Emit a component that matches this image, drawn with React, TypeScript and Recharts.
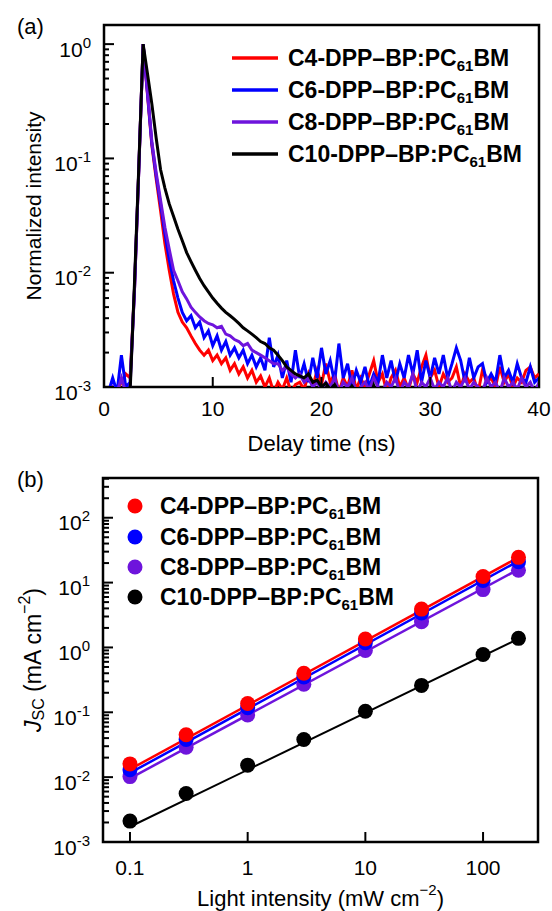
import React from 'react';
import { LineChart, ComposedChart, Line, Scatter, XAxis, YAxis, ReferenceArea, Legend } from 'recharts';

const FONT = '"Liberation Sans", Arial, Helvetica, sans-serif';
const RED = '#ff0000';
const BLUE = '#0000ff';
const PURPLE = '#6e14dc';
const BLACK = '#000000';

// ---------- Panel (a): TRPL decay ----------
const delayTime = [
  0, 0.4, 0.8, 1.2, 1.6, 2, 2.4, 2.8, 3.2, 3.6, 4, 4.4, 4.8, 5.2, 5.6, 6, 6.4, 6.8, 7.2, 7.6,
  8, 8.4, 8.8, 9.2, 9.6, 10, 10.4, 10.8, 11.2, 11.6, 12, 12.4, 12.8, 13.2, 13.6, 14, 14.4, 14.8, 15.2, 15.6,
  16, 16.4, 16.8, 17.2, 17.6, 18, 18.4, 18.8, 19.2, 19.6, 20, 20.4, 20.8, 21.2, 21.6, 22, 22.4, 22.8, 23.2, 23.6,
  24, 24.4, 24.8, 25.2, 25.6, 26, 26.4, 26.8, 27.2, 27.6, 28, 28.4, 28.8, 29.2, 29.6, 30, 30.4, 30.8, 31.2, 31.6,
  32, 32.4, 32.8, 33.2, 33.6, 34, 34.4, 34.8, 35.2, 35.6, 36, 36.4, 36.8, 37.2, 37.6, 38, 38.4, 38.8, 39.2, 39.6, 40,
];

const c4Decay = [
  0.0007, 0.0007, 0.0008, 0.00095, 0.0011, 0.0013, 0.0012, 0.007, 0.08, 1.0,
  0.36, 0.13, 0.066, 0.035, 0.018, 0.0105, 0.0065, 0.0045, 0.0037, 0.0033,
  0.0028, 0.0024, 0.0021, 0.0019, 0.0021, 0.0017, 0.0019, 0.0016, 0.0018, 0.0014,
  0.0016, 0.0013, 0.0015, 0.0012, 0.0014, 0.0011, 0.00125, 0.001, 0.0012, 0.0009,
  0.0011, 0.00095, 0.0012, 0.0009, 0.00105, 0.0011, 0.00095, 0.0013, 0.001, 0.0014,
  0.00105, 0.0016, 0.0011, 0.0013, 0.0009, 0.0012, 0.001, 0.0014, 0.00095, 0.0012,
  0.001, 0.0013, 0.0017, 0.0011, 0.0013, 0.0009, 0.0012, 0.0014, 0.001, 0.0012,
  0.00095, 0.0013, 0.0011, 0.0015, 0.0019, 0.0012, 0.0014, 0.001, 0.0013, 0.0011,
  0.0012, 0.0015, 0.001, 0.0013, 0.0011, 0.0012, 0.0009, 0.0014, 0.0011, 0.0012,
  0.001, 0.0015, 0.0011, 0.0013, 0.001, 0.0012, 0.0011, 0.0014, 0.0015, 0.0012, 0.0013,
];

const c6Decay = [
  0.0008, 0.0009, 0.0012, 0.0009, 0.0019, 0.001, 0.0011, 0.007, 0.08, 1.0,
  0.37, 0.135, 0.07, 0.04, 0.022, 0.013, 0.0085, 0.006, 0.0045, 0.0038,
  0.0042, 0.0033, 0.0037, 0.0027, 0.0031, 0.0023, 0.0028, 0.0021, 0.0025, 0.0019,
  0.0022, 0.0018, 0.0021, 0.0016, 0.0019, 0.0015, 0.0018, 0.0014, 0.0027, 0.0015,
  0.0019, 0.0012, 0.0017, 0.0011, 0.0021, 0.0012, 0.0016, 0.0011, 0.0018, 0.0012,
  0.0022, 0.0013, 0.0017, 0.0011, 0.0024, 0.0012, 0.0016, 0.001, 0.0014, 0.0011,
  0.0015, 0.001, 0.0013, 0.0011, 0.0019, 0.0012, 0.0017, 0.0011, 0.0016, 0.0012,
  0.0019, 0.0013, 0.0021, 0.0011, 0.0017, 0.0012, 0.0018, 0.0013, 0.0019, 0.0012,
  0.0016, 0.0022, 0.0017, 0.0011, 0.0018, 0.0012, 0.0015, 0.0016, 0.0011, 0.0013,
  0.0011, 0.0019, 0.0012, 0.0014, 0.0011, 0.0016, 0.0012, 0.0011, 0.0015, 0.0011, 0.0012,
];

const c8Decay = [
  0.0007, 0.0008, 0.001, 0.0009, 0.0012, 0.0009, 0.001, 0.007, 0.08, 1.0,
  0.38, 0.14, 0.075, 0.043, 0.025, 0.016, 0.0105, 0.0085, 0.0068, 0.0059,
  0.005, 0.0045, 0.0041, 0.0038, 0.0036, 0.0035, 0.0033, 0.0034, 0.0029, 0.0028,
  0.0026, 0.0025, 0.0023, 0.0024, 0.0021, 0.002, 0.0019, 0.0018, 0.0017, 0.0016,
  0.0016, 0.0014, 0.0015, 0.0013, 0.0012, 0.0013, 0.0011, 0.0012, 0.001, 0.0011,
  0.00095, 0.0011, 0.001, 0.0012, 0.0009, 0.0011, 0.001, 0.0012, 0.0009, 0.001,
  0.0011, 0.00095, 0.0012, 0.001, 0.0009, 0.0011, 0.001, 0.0012, 0.0009, 0.0011,
  0.001, 0.0013, 0.0009, 0.0011, 0.001, 0.0012, 0.00095, 0.0011, 0.001, 0.0012,
  0.0009, 0.0011, 0.001, 0.0012, 0.00095, 0.0011, 0.001, 0.0009, 0.0012, 0.001,
  0.0011, 0.0009, 0.0012, 0.001, 0.0011, 0.00095, 0.0012, 0.001, 0.0011, 0.0009, 0.0011,
];

const c10Decay = [
  0.0006, 0.0006, 0.0006, 0.0006, 0.0006, 0.0006, 0.0009, 0.008, 0.085, 1.0,
  0.55, 0.3, 0.15, 0.08, 0.055, 0.04, 0.031, 0.024, 0.019, 0.015,
  0.0125, 0.0105, 0.0089, 0.0077, 0.0068, 0.006, 0.0054, 0.0049, 0.0045, 0.0042,
  0.0039, 0.0036, 0.0033, 0.0031, 0.0029, 0.0027, 0.0025, 0.0024, 0.0022, 0.0021,
  0.0019, 0.0017, 0.0015, 0.0014, 0.0013, 0.00125, 0.0012, 0.0013, 0.0011, 0.00115,
  0.001, 0.00108, 0.00095, 0.00105, 0.0009, 0.00085, 0.0009, 0.00102, 0.0009, 0.0008,
  0.0008, 0.0008, 0.00103, 0.0008, 0.0008, 0.0008, 0.0008, 0.0008, 0.0008, 0.0008,
  0.0008, 0.0008, 0.0008, 0.0008, 0.0008, 0.0008, 0.0008, 0.0008, 0.0008, 0.0008,
  0.0008, 0.0008, 0.0008, 0.0008, 0.0008, 0.0008, 0.0008, 0.0008, 0.0008, 0.0008,
  0.0008, 0.0008, 0.0008, 0.0008, 0.0008, 0.0008, 0.0008, 0.0008, 0.0008, 0.0008, 0.0008,
];

const xTicksA = [0, 10, 20, 30, 40];
const yMajorA = [0.001, 0.01, 0.1, 1];

// ---------- Panel (b): Jsc vs light intensity ----------
const lightIntensity = [0.1, 0.3, 1, 3, 10, 30, 100, 200];
const jscC4 = [0.016, 0.045, 0.137, 0.4, 1.35, 3.9, 12.4, 24.5];
const jscC6 = [0.013, 0.038, 0.118, 0.35, 1.18, 3.4, 10.8, 21];
const jscC8 = [0.0102, 0.029, 0.091, 0.27, 0.9, 2.5, 7.8, 15.5];
const jscC10 = [0.0021, 0.0056, 0.0153, 0.038, 0.104, 0.26, 0.78, 1.38];

const fitRange = [0.1, 200];
const fitC4 = [0.0132, 24.5];
const fitC6 = [0.0116, 21.5];
const fitC8 = [0.0096, 16];
const fitC10 = [0.00172, 1.36];

const xTicksB = [0.1, 1, 10, 100];
const xTickLabelsB = ['0.1', '1', '10', '100'];
const yMajorB = [0.001, 0.01, 0.1, 1, 10, 100];

const legendPrefixes = ['C4', 'C6', 'C8', 'C10'];
const seriesColors = [RED, BLUE, PURPLE, BLACK];

// ---------- helpers ----------
const minorTicks = (majors: number[], extra: number[]) => {
  const out: number[] = [];
  majors.forEach((m, i) => {
    out.push(m);
    if (i < majors.length - 1) for (let k = 2; k <= 9; k++) out.push(+(m * k).toPrecision(3));
  });
  return out.concat(extra);
};
const yTicksA = minorTicks(yMajorA, []);
const yTicksB = minorTicks(yMajorB, [200, 300, 400]);

const decayRows = delayTime.map((t, i) => ({ t, c4: c4Decay[i], c6: c6Decay[i], c8: c8Decay[i], c10: c10Decay[i] }));
const toPts = (ys: number[]) => lightIntensity.map((x, i) => ({ x, y: ys[i] }));
const toFit = (ys: number[]) => fitRange.map((x, i) => ({ x, y: ys[i] }));

const makeYTick = (majorLen: number, minorLen: number) => (p: any) => {
  const { x, y, payload } = p;
  const v = payload.value as number;
  const lg = Math.log10(v);
  const e = Math.round(lg);
  const major = Math.abs(lg - e) < 1e-6;
  return (
    <g>
      <line x1={x} x2={x + (major ? majorLen : minorLen)} y1={y} y2={y} stroke="#000" strokeWidth={2} />
      {major && (
        <text x={x - 13} y={y + 12.5} textAnchor="end" fontFamily={FONT} fontSize={21} fill="#000">
          10<tspan dy={-9} fontSize={15}>{e < 0 ? `-${-e}` : `${e}`}</tspan>
        </text>
      )}
    </g>
  );
};

const makeXTick = (len: number, labelDy: number, labels?: string[], values?: number[]) => (p: any) => {
  const { x, y, payload } = p;
  const v = payload.value as number;
  let lab = String(v);
  if (labels && values) {
    const idx = values.indexOf(v);
    if (idx >= 0) lab = labels[idx];
  }
  return (
    <g>
      <line x1={x} x2={x} y1={y} y2={y - len} stroke="#000" strokeWidth={2} />
      <text x={x} y={y + labelDy} textAnchor="middle" dominantBaseline="central" fontFamily={FONT} fontSize={21} fill="#000">
        {lab}
      </text>
    </g>
  );
};

const YTitleA = (p: any) => {
  const vb = p.viewBox || { x: 0, y: 25, width: 104, height: 362 };
  const cy = vb.y + vb.height / 2;
  const cx = 33;
  return (
    <text x={cx} y={cy} transform={`rotate(-90 ${cx} ${cy})`} textAnchor="middle" dominantBaseline="central" fontFamily={FONT} fontSize={21} fill="#000">
      Normalized intensity
    </text>
  );
};

const XTitleA = (p: any) => {
  const vb = p.viewBox || { x: 104, y: 387, width: 435, height: 53 };
  return (
    <text x={vb.x + vb.width / 2} y={vb.y + 56} textAnchor="middle" dominantBaseline="central" fontFamily={FONT} fontSize={22} fill="#000">
      Delay time (ns)
    </text>
  );
};

const YTitleB = (p: any) => {
  const vb = p.viewBox || { x: 0, y: 38, width: 103, height: 364 };
  const cy = vb.y + vb.height / 2;
  const cx = 33;
  return (
    <text x={cx} y={cy} transform={`rotate(-90 ${cx} ${cy})`} textAnchor="middle" dominantBaseline="central" fontFamily={FONT} fontSize={23} fill="#000">
      <tspan fontStyle="italic">J</tspan>
      <tspan fontSize={16} dy={5}>SC</tspan>
      <tspan dy={-5}> (mA cm</tspan>
      <tspan fontSize={16} dy={-9}>−2</tspan>
      <tspan dy={9}>)</tspan>
    </text>
  );
};

const XTitleB = (p: any) => {
  const vb = p.viewBox || { x: 103, y: 402, width: 435, height: 69 };
  return (
    <text x={vb.x + vb.width / 2} y={vb.y + 56} textAnchor="middle" dominantBaseline="central" fontFamily={FONT} fontSize={22} fill="#000">
      Light intensity (mW cm<tspan fontSize={15} dy={-9}>−2</tspan><tspan dy={9}>)</tspan>
    </text>
  );
};

const LegendLabel = ({ prefix }: { prefix: string }) => (
  <span style={{ fontFamily: FONT, fontWeight: 700, fontSize: 23, whiteSpace: 'nowrap', color: '#000' }}>
    {prefix}-DPP–BP:PC<span style={{ fontSize: 15, position: 'relative', top: 5 }}>61</span>BM
  </span>
);

const legendRowsA = [58, 90, 122, 154];
const LegendA = () => (
  <div style={{ position: 'absolute', left: 0, top: 0 }}>
    {legendPrefixes.map((pre, i) => (
      <div key={pre} style={{ position: 'absolute', left: 232, top: legendRowsA[i] - 15, height: 30, display: 'flex', alignItems: 'center' }}>
        <svg width={46} height={30} style={{ display: 'block' }}>
          <line x1={0} x2={46} y1={15} y2={15} stroke={seriesColors[i]} strokeWidth={3.5} />
        </svg>
        <div style={{ marginLeft: 10 }}>
          <LegendLabel prefix={pre} />
        </div>
      </div>
    ))}
  </div>
);

const legendRowsB = [66, 97, 127, 157];
const LegendB = () => (
  <div style={{ position: 'absolute', left: 0, top: 0 }}>
    {legendPrefixes.map((pre, i) => (
      <div key={pre} style={{ position: 'absolute', left: 125, top: legendRowsB[i] - 15, height: 30, display: 'flex', alignItems: 'center' }}>
        <svg width={20} height={30} style={{ display: 'block' }}>
          <circle cx={10} cy={15} r={7.5} fill={seriesColors[i]} />
        </svg>
        <div style={{ marginLeft: 15 }}>
          <LegendLabel prefix={pre} />
        </div>
      </div>
    ))}
  </div>
);

const dotShape = (color: string) => (p: any) => <circle cx={p.cx} cy={p.cy} r={7.5} fill={color} />;

const legendWrap = { position: 'absolute' as const, left: 0, top: 0, bottom: 'auto', width: 0, height: 0, overflow: 'visible' as const };

export default function App() {
  return (
    <div style={{ position: 'absolute', left: 0, top: 0, width: 552, height: 911, background: '#fff', fontFamily: FONT }}>
      <div style={{ position: 'absolute', left: 0, top: 0 }}>
        <LineChart width={552} height={462} data={decayRows} margin={{ top: 25, right: 13, bottom: 22, left: 0 }}>
          <XAxis
            dataKey="t"
            type="number"
            domain={[0, 40]}
            ticks={xTicksA}
            interval={0}
            allowDataOverflow
            axisLine={false}
            tickLine={false}
            tickSize={0}
            tickMargin={0}
            height={53}
            tick={makeXTick(10, 21)}
            label={{ content: XTitleA }}
          />
          <YAxis
            type="number"
            scale="log"
            domain={[0.001, 1.47]}
            allowDataOverflow
            ticks={yTicksA}
            interval={0}
            axisLine={false}
            tickLine={false}
            tickSize={0}
            tickMargin={0}
            width={104}
            tick={makeYTick(10, 5)}
            label={{ content: YTitleA }}
          />
          <Line dataKey="c4" stroke={RED} strokeWidth={3} dot={false} isAnimationActive={false} />
          <Line dataKey="c6" stroke={BLUE} strokeWidth={3} dot={false} isAnimationActive={false} />
          <Line dataKey="c8" stroke={PURPLE} strokeWidth={3} dot={false} isAnimationActive={false} />
          <Line dataKey="c10" stroke={BLACK} strokeWidth={3} dot={false} isAnimationActive={false} />
          <ReferenceArea x1={0} x2={40} y1={0.001} y2={1.47} fill="none" stroke="#000" strokeWidth={2.5} ifOverflow="visible" />
          <Legend content={LegendA} wrapperStyle={legendWrap} />
        </LineChart>
      </div>
      <div style={{ position: 'absolute', left: 17, top: 15, fontSize: 22, lineHeight: '24px', color: '#000' }}>(a)</div>

      <div style={{ position: 'absolute', left: 0, top: 440 }}>
        <ComposedChart width={552} height={471} margin={{ top: 38, right: 14, bottom: 0, left: 0 }}>
          <XAxis
            dataKey="x"
            type="number"
            scale="log"
            domain={[0.059, 293]}
            allowDataOverflow
            ticks={xTicksB}
            interval={0}
            axisLine={false}
            tickLine={false}
            tickSize={0}
            tickMargin={0}
            height={69}
            tick={makeXTick(10, 25, xTickLabelsB, xTicksB)}
            label={{ content: XTitleB }}
          />
          <YAxis
            dataKey="y"
            type="number"
            scale="log"
            domain={[0.001, 410]}
            allowDataOverflow
            ticks={yTicksB}
            interval={0}
            axisLine={false}
            tickLine={false}
            tickSize={0}
            tickMargin={0}
            width={103}
            tick={makeYTick(10, 6)}
            label={{ content: YTitleB }}
          />
          <Scatter data={toPts(jscC10)} fill={BLACK} shape={dotShape(BLACK)} isAnimationActive={false} />
          <Line data={toFit(fitC10)} dataKey="y" stroke={BLACK} strokeWidth={2} dot={false} isAnimationActive={false} />
          <Scatter data={toPts(jscC8)} fill={PURPLE} shape={dotShape(PURPLE)} isAnimationActive={false} />
          <Line data={toFit(fitC8)} dataKey="y" stroke={PURPLE} strokeWidth={2.5} dot={false} isAnimationActive={false} />
          <Scatter data={toPts(jscC6)} fill={BLUE} shape={dotShape(BLUE)} isAnimationActive={false} />
          <Line data={toFit(fitC6)} dataKey="y" stroke={BLUE} strokeWidth={2.5} dot={false} isAnimationActive={false} />
          <Scatter data={toPts(jscC4)} fill={RED} shape={dotShape(RED)} isAnimationActive={false} />
          <Line data={toFit(fitC4)} dataKey="y" stroke={RED} strokeWidth={2.5} dot={false} isAnimationActive={false} />
          <ReferenceArea x1={0.059} x2={293} y1={0.001} y2={410} fill="none" stroke="#000" strokeWidth={2.5} ifOverflow="visible" />
          <Legend content={LegendB} wrapperStyle={legendWrap} />
        </ComposedChart>
      </div>
      <div style={{ position: 'absolute', left: 17, top: 468, fontSize: 22, lineHeight: '24px', color: '#000' }}>(b)</div>
    </div>
  );
}
